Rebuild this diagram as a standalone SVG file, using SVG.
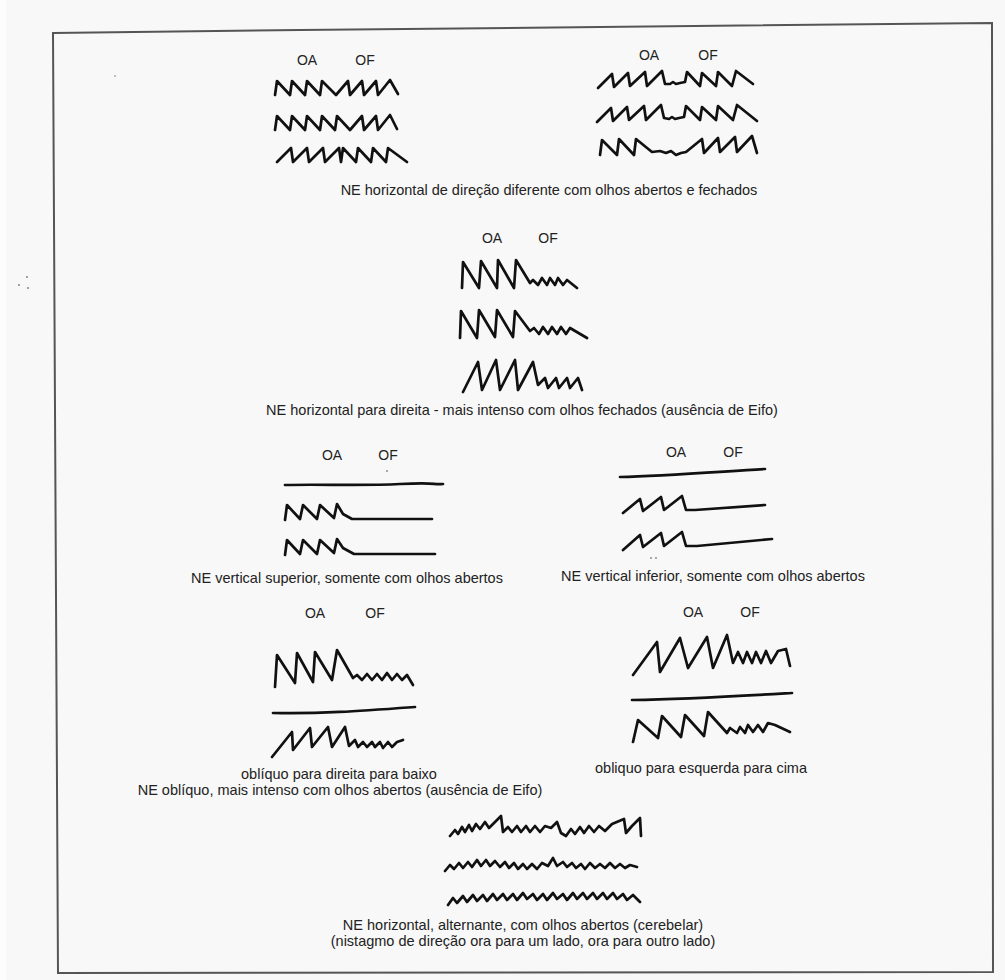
<svg xmlns="http://www.w3.org/2000/svg" width="1005" height="980" viewBox="0 0 1005 980">
<style>
.t{font-family:"Liberation Sans",Arial,sans-serif;fill:#222;font-size:14.5px;text-anchor:middle}
.l{font-family:"Liberation Sans",Arial,sans-serif;fill:#222;font-size:14px;text-anchor:middle}
.w{fill:none;stroke:#111;stroke-width:2.7;stroke-linejoin:round;stroke-linecap:round}
.f{fill:none;stroke:#555;stroke-width:2}
</style>
<rect x="0" y="0" width="1005" height="980" fill="#f8f8f8"/>
<rect x="0" y="0" width="6" height="980" fill="#fdfdfd"/>
<path class="f" d="M53,33 L300,30 L600,27 L992,23 L993,972 L58,973 Z"/>
<g id="specks" fill="#777">
<circle cx="27" cy="277" r="0.9"/><circle cx="19" cy="285" r="0.9"/><circle cx="28" cy="288" r="0.9"/><circle cx="115" cy="76" r="0.8"/>
</g>
<g id="panel1">
<text class="l" x="307" y="65">OA</text><text class="l" x="365" y="65">OF</text>
<polyline class="w" points="275,95 277,81 290,95 292,81 305,95 307,81 320,95 322,81 336,95 348,81 350,95 362,81 364,95 376,81 378,95 390,80 398,94"/>
<polyline class="w" points="275,130 277,116 290,130 292,116 305,130 307,116 320,130 322,116 335,130 337,116 350,130 362,116 364,130 376,116 378,130 390,115 397,129"/>
<polyline class="w" points="277,162 291,148 293,162 307,148 309,162 323,148 325,162 339,148 341,162 343,148 356,162 358,148 371,162 373,148 386,162 388,148 407,162"/>
<text class="t" x="549" y="195">NE horizontal de direção diferente com olhos abertos e fechados</text>
</g>
<g id="panel2">
<text class="l" x="649" y="60">OA</text><text class="l" x="708" y="60">OF</text>
<polyline class="w" points="598,88 612,74 614,87 628,73 630,86 645,72 647,86 662,71 665,84 670,84 673,82 676,84 680,83 685,82 687,72 700,86 702,73 716,86 718,72 732,86 736,71 753,84"/>
<polyline class="w" points="597,122 611,108 613,121 627,107 629,120 644,106 646,120 661,105 664,118 669,119 672,117 675,119 679,118 684,117 686,106 700,120 702,107 716,120 718,106 733,120 737,105 757,121"/>
<polyline class="w" points="600,155 602,140 617,155 619,139 634,155 636,139 652,152 660,151 666,153 671,151 676,155 681,153 686,152 702,139 704,153 718,138 720,152 735,137 737,152 752,136 757,153"/>
</g>
<g id="panel3">
<text class="l" x="492" y="243">OA</text><text class="l" x="548" y="243">OF</text>
<polyline class="w" points="462,288 463,262 479,288 481,261 497,288 498,260 514,288 516,260 530,283 533,280 538,285 542,278 547,285 550,278 555,285 558,278 563,285 567,280 577,288"/>
<polyline class="w" points="460,338 461,311 477,338 479,310 495,337 497,310 513,337 515,311 530,331 534,328 539,334 543,327 548,334 552,327 557,334 561,327 566,334 570,328 587,338"/>
<polyline class="w" points="463,392 478,362 482,390 496,360 500,390 515,360 518,390 533,362 538,385 545,378 548,388 556,378 559,388 567,378 570,388 578,378 582,390"/>
<text class="t" x="522" y="415">NE horizontal para direita - mais intenso com olhos fechados (ausência de Eifo)</text>
</g>
<g id="panel4">
<text class="l" x="332" y="460">OA</text><text class="l" x="388" y="460">OF</text>
<circle cx="387" cy="471" r="0.8" fill="#444"/>
<path class="w" d="M285,485 C320,484 360,486 400,484 S430,485 443,484"/>
<polyline class="w" points="285,520 287,505 300,519 303,505 317,519 320,505 334,518 337,504 343,514 352,519 432,519"/>
<polyline class="w" points="285,555 287,540 300,554 303,540 317,554 320,540 334,553 337,539 343,548 354,554 435,554"/>
<text class="t" x="347" y="583">NE vertical superior, somente com olhos abertos</text>
</g>
<g id="panel5">
<text class="l" x="676" y="457">OA</text><text class="l" x="733" y="457">OF</text>
<path class="w" d="M620,477 C660,476 700,473 765,469"/>
<polyline class="w" points="623,513 640,499 643,511 661,497 664,510 682,496 686,510 695,510 765,505"/>
<polyline class="w" points="623,550 640,535 643,547 661,533 664,546 682,532 686,546 697,546 772,539"/>
<circle cx="651" cy="558" r="0.8" fill="#444"/><circle cx="656" cy="558" r="0.8" fill="#444"/>
<text class="t" x="713" y="581">NE vertical inferior, somente com olhos abertos</text>
</g>
<g id="panel6">
<text class="l" x="315" y="618">OA</text><text class="l" x="375" y="618">OF</text>
<polyline class="w" points="275,687 277,655 295,683 297,653 313,682 315,652 332,680 337,650 353,678 357,675 362,680 367,674 372,680 377,674 382,680 387,673 392,680 397,674 402,680 407,675 413,685"/>
<path class="w" d="M273,713 C320,714 360,711 415,707"/>
<polyline class="w" points="272,757 292,732 293,750 310,728 312,747 328,727 332,747 345,727 349,746 355,740 358,747 363,742 367,747 372,742 375,747 380,742 383,748 388,742 392,747 397,742 403,740"/>
<text class="t" x="339" y="779">oblíquo para direita para baixo</text>
<text class="t" x="340" y="795">NE oblíquo, mais intenso com olhos abertos (ausência de Eifo)</text>
</g>
<g id="panel7">
<text class="l" x="693" y="617">OA</text><text class="l" x="750" y="617">OF</text>
<polyline class="w" points="633,675 657,642 660,672 680,638 688,668 707,637 713,668 727,635 733,663 738,652 743,663 747,652 752,663 756,652 761,663 766,651 771,663 778,651 786,649 790,666"/>
<path class="w" d="M632,700 C690,699 740,696 792,693"/>
<polyline class="w" points="633,742 638,720 658,738 662,716 681,737 685,715 704,736 708,712 727,733 730,728 737,733 740,727 745,733 748,725 753,732 758,725 763,732 768,723 775,725 790,732"/>
<text class="t" x="701" y="773">obliquo para esquerda para cima</text>
</g>
<g id="panel8">
<polyline class="w" points="450,836 455,830 458,834 462,827 465,832 469,825 472,831 476,824 480,829 485,822 489,828 495,822 501,816 503,832 508,827 512,832 517,826 521,832 526,826 530,832 535,826 540,832 545,826 551,828 557,822 561,833 566,836 571,829 575,834 580,827 584,833 589,826 594,832 599,826 605,831 612,824 624,819 626,833 632,826 640,818 641,836"/>
<polyline class="w" points="445,871 450,865 454,869 459,863 463,868 468,862 472,867 477,860 481,866 486,860 490,866 495,861 500,867 505,862 509,868 514,863 518,869 523,864 527,869 532,864 537,869 542,863 548,866 553,858 557,866 563,862 567,867 572,863 576,868 581,864 585,869 590,863 595,868 600,864 605,868 610,863 615,868 620,864 625,868 630,865 637,867"/>
<polyline class="w" points="448,905 453,898 457,903 463,896 467,902 473,895 477,901 483,895 487,901 493,894 497,900 503,894 507,900 513,894 517,900 523,893 527,899 533,894 537,900 543,894 547,900 553,893 557,899 563,894 567,900 573,893 577,899 583,893 587,899 593,893 597,899 603,893 607,899 613,893 617,899 623,894 627,900 633,895 640,902"/>
<text class="t" x="523" y="930">NE horizontal, alternante, com olhos abertos (cerebelar)</text>
<text class="t" x="523" y="946">(nistagmo de direção ora para um lado, ora para outro lado)</text>
</g>
</svg>
